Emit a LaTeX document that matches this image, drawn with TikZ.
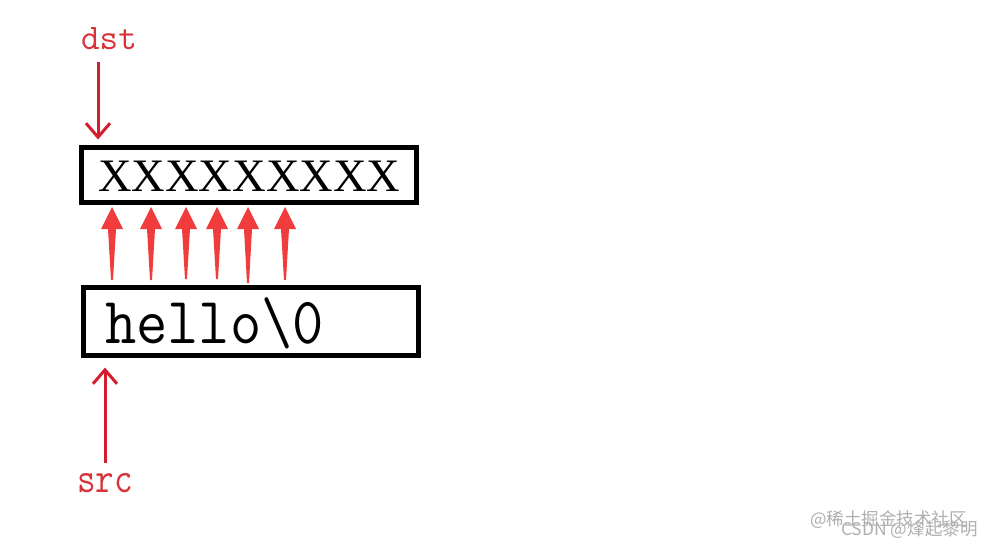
\documentclass[tikz,border=0pt]{standalone}
\usepackage{fontspec}
\setmainfont{Liberation Serif}
\usetikzlibrary{calc,arrows.meta}
\newfontfamily\cjkfont{Noto Sans CJK SC}
\definecolor{labelred}{RGB}{215,50,55}
\definecolor{ptrred}{RGB}{210,30,45}
\definecolor{copyred}{RGB}{240,60,60}
\definecolor{wmgray}{RGB}{175,175,175}
\tikzset{
  membox/.style={draw=black,line width=5pt},
  lbl/.style={inner sep=0pt,text=labelred,font=\ttfamily\fontsize{36}{36}\selectfont},
  ptr/.style={draw=ptrred,line width=3pt,-{Straight Barb[length=14pt,width=24pt,line width=3pt]}},
  copyarrow/.style={fill=copyred},
  wm/.style={inner sep=0pt,text=wmgray,font=\cjkfont\fontsize{17.5}{17.5}\selectfont}
}
\begin{document}
\begin{tikzpicture}[x=1pt,y=-1pt]
\useasboundingbox (0,0) rectangle (992,551);
% boxes
\draw[membox] (81.5,147.5) rectangle (416.5,202.5);
\coordinate (dstbox) at (98,147.5);
\draw[membox] (83.5,287.5) rectangle (418.5,355.5);
\coordinate (srcbox) at (105,355.5);
% contents
\node[anchor=base west,inner sep=0pt,font=\fontsize{46.5}{46.5}\selectfont] (dstval) at (98,191) {XXXXXXXXX};
\node[anchor=base west,inner sep=0pt,xscale=0.92,font=\ttfamily\fontsize{66}{66}\selectfont] (srcval) at (105,343) {hello\textbackslash 0};
% labels
\node[lbl,anchor=base west] (dst) at (81,49) {dst};
\node[lbl,anchor=base west,yscale=1.2] (src) at (77,492) {src};
% pointer arrows
\coordinate (dsttail) at (98,62);
\coordinate (srctail) at (105,463);
\draw[ptr] (dsttail) -- ($(dstbox)+(0,-8)$);
\draw[ptr] (srctail) -- ($(srcbox)+(0,12)$);
% copy arrows
\foreach \i/\x/\b in {1/112/280,2/151/280,3/186/279,4/217/279,5/248/283,6/285/280}{
  \coordinate (t\i) at (\x,207);
  \coordinate (b\i) at (\x,\b);
  \fill[copyarrow] (t\i) -- ($(t\i)+(11,22)$) -- ($(t\i)+(4,22)$) -- ($(b\i)+(1,0)$)
     -- ($(b\i)+(-1,0)$) -- ($(t\i)+(-4,22)$) -- ($(t\i)+(-11,22)$) -- cycle;
}
% watermark
\node[wm,anchor=west] (wm1) at (810,520) {@稀土掘金技术社区};
\node[wm,anchor=west] (wm2) at (841,530) {CSDN @烽起黎明};
\end{tikzpicture}
\end{document}
